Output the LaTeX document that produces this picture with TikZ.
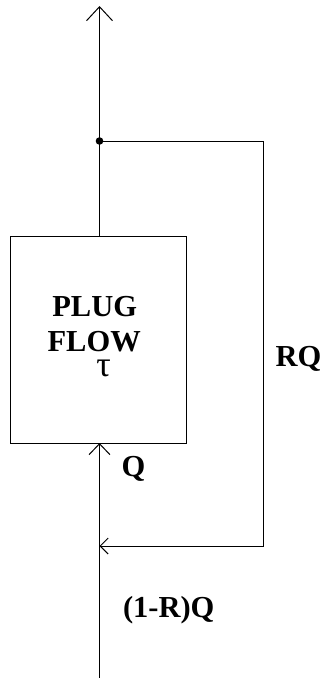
\documentclass[tikz,border=0pt]{standalone}
\usepackage{fontspec}
\setmainfont{Liberation Serif}
\usetikzlibrary{arrows.meta}
\begin{document}
\begin{tikzpicture}[x=1pt,y=-1pt,line width=1pt,
  lbl/.style={inner sep=0pt,font=\fontsize{30.5}{36}\selectfont\bfseries},
  reactor/.style={draw,line width=1pt,minimum width=175.5pt,minimum height=207pt,inner sep=0pt},
  bigtip/.style={-{Straight Barb[length=14pt,width=26pt,line width=1pt]}},
  midtip/.style={-{Straight Barb[length=11pt,width=21pt,line width=1pt]}},
  smalltip/.style={-{Straight Barb[length=8pt,width=16pt,line width=1pt]}}]
\useasboundingbox (0,0) rectangle (320,678);
\node[reactor] (box) at (98.25,339.5) {};
\coordinate (top) at (99.5,6);
\coordinate (boxtop) at (99.5,236);
\coordinate (boxbot) at (99.5,443);
\coordinate (bottom) at (99.5,680);
\coordinate (split) at (99.5,141);
\coordinate (c1) at (263,141);
\coordinate (c2) at (263,546);
\coordinate (mix) at (99.5,546);
\draw[bigtip] (boxtop) -- (top);
\draw[midtip] (bottom) -- (boxbot);
\draw[smalltip] (split) -- (c1) -- (c2) -- (mix);
\fill (split) circle (3.8pt);
\node[lbl,anchor=base] (plug) at (94.7,316.7) {PLUG};
\node[lbl,anchor=base,text depth=0pt] (flow) at (94.2,351.7) {FLOW};
\node[inner sep=0pt,anchor=base,text height=11pt,text depth=0pt,font=\fontsize{36}{40}\selectfont] (tau) at (103.5,376.7) {τ};
\node[lbl,anchor=base west] (q) at (121,476) {Q};
\node[lbl,anchor=base west] (rq) at (275,366) {RQ};
\node[lbl,anchor=base west] (frq) at (122.5,617) {(1-R)Q};
\end{tikzpicture}
\end{document}
